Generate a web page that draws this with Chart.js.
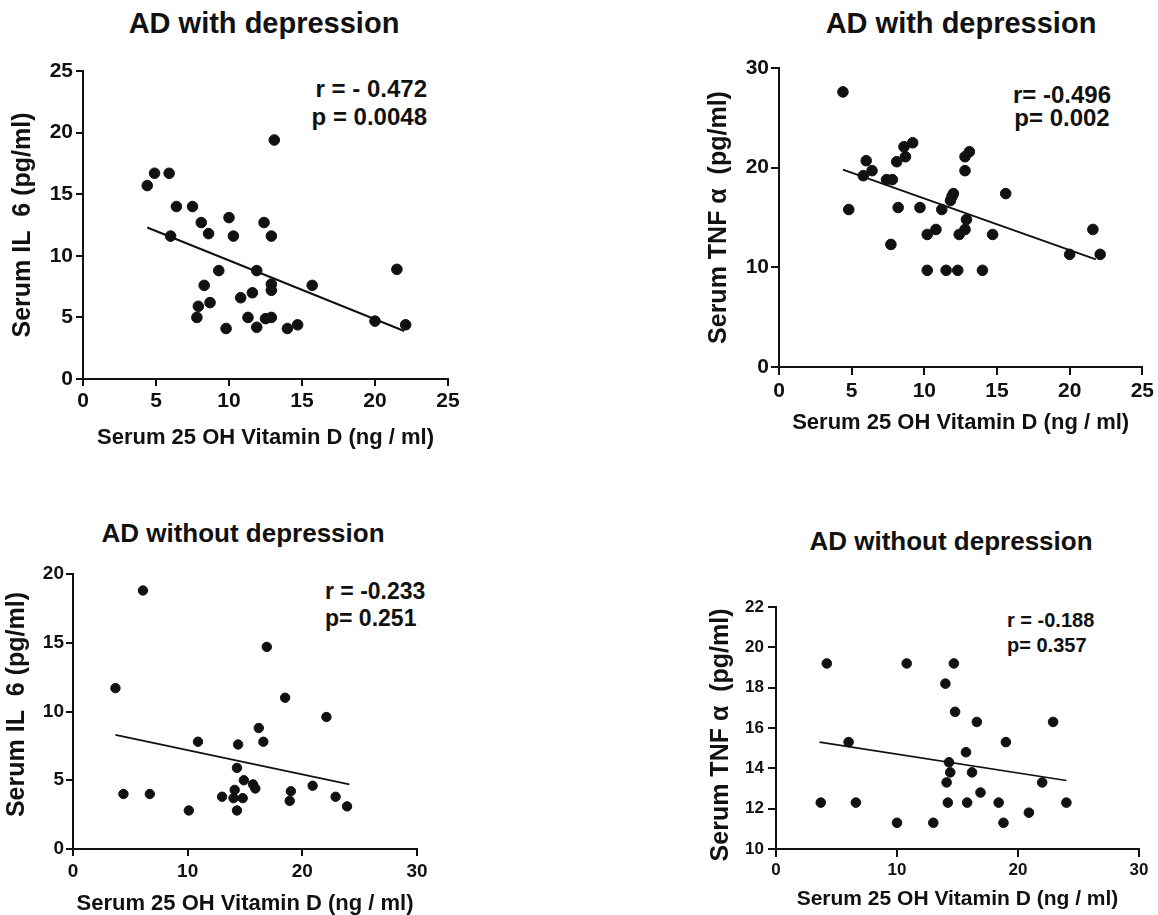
<!DOCTYPE html>
<html>
<head>
<meta charset="utf-8">
<script src="https://cdn.jsdelivr.net/npm/chart.js@4.4.1/dist/chart.umd.min.js"></script>
<style>
  html, body { margin: 0; padding: 0; background: #fff; width: 1158px; height: 915px; overflow: hidden; }
  body { position: relative; font-family: "Liberation Sans", Arial, sans-serif; color: #111; }
  .wrap { position: absolute; }
  .txt { position: absolute; font-weight: bold; white-space: nowrap; line-height: 1; color: #111; }
  .ctr { transform: translateX(-50%); }
</style>
</head>
<body>
<div class="txt ctr" style="left:264px; top:9px; font-size:29px;">AD with depression</div>
<div class="txt ctr" style="left:961px; top:9px; font-size:29px;">AD with depression</div>
<div class="txt ctr" style="left:243px; top:520px; font-size:26px;">AD without depression</div>
<div class="txt ctr" style="left:951px; top:528px; font-size:26px;">AD without depression</div>

<div class="txt" style="right:731px; top:77px; font-size:24px; text-align:right;">r = - 0.472</div>
<div class="txt" style="right:731px; top:105px; font-size:24px; text-align:right;">p = 0.0048</div>
<div class="txt ctr" style="left:1062px; top:83px; font-size:24px;">r= -0.496</div>
<div class="txt ctr" style="left:1062px; top:106px; font-size:24px;">p= 0.002</div>
<div class="txt" style="left:325px; top:580px; font-size:23px;">r = -0.233</div>
<div class="txt" style="left:325px; top:607px; font-size:23px;">p= 0.251</div>
<div class="txt" style="left:1007px; top:610px; font-size:20px;">r = -0.188</div>
<div class="txt" style="left:1007px; top:635px; font-size:20px;">p= 0.357</div>

<div class="wrap" style="left:0px; top:50px; width:470px; height:410px;"><canvas id="c1" width="470" height="410"></canvas></div>
<div class="wrap" style="left:700px; top:50px; width:458px; height:400px;"><canvas id="c2" width="458" height="400"></canvas></div>
<div class="wrap" style="left:0px; top:550px; width:470px; height:365px;"><canvas id="c3" width="470" height="365"></canvas></div>
<div class="wrap" style="left:700px; top:580px; width:458px; height:335px;"><canvas id="c4" width="458" height="335"></canvas></div>

<script>
// ---- Data ----
// Panel 1: AD with depression, IL-6 vs 25 OH Vitamin D
const il6DepX = [4.4, 4.9, 5.9, 6.4, 7.5, 6.0, 8.1, 8.6, 10.0, 10.3, 12.4, 12.9, 13.1, 9.3, 11.9, 8.3, 12.9, 12.9, 15.7, 21.5, 11.6, 10.8, 7.9, 8.7, 7.8, 11.3, 9.8, 11.9, 12.5, 12.9, 14.0, 14.7, 20.0, 22.1];
const il6DepY = [15.7, 16.7, 16.7, 14.0, 14.0, 11.6, 12.7, 11.8, 13.1, 11.6, 12.7, 11.6, 19.4, 8.8, 8.8, 7.6, 7.7, 7.2, 7.6, 8.9, 7.0, 6.6, 5.9, 6.2, 5.0, 5.0, 4.1, 4.2, 4.9, 5.0, 4.1, 4.4, 4.7, 4.4];
const il6DepLineX = [4.4, 22.0];
const il6DepLineY = [12.3, 3.9];

// Panel 2: AD with depression, TNF-alpha vs 25 OH Vitamin D
const tnfDepX = [4.4, 4.8, 6.0, 5.8, 6.4, 7.4, 7.8, 7.7, 8.1, 8.6, 8.7, 9.2, 8.2, 9.7, 10.2, 10.8, 10.2, 11.2, 11.9, 12.0, 11.8, 11.5, 12.3, 12.4, 12.8, 12.8, 12.8, 13.1, 12.9, 14.0, 14.7, 15.6, 20.0, 21.6, 22.1];
const tnfDepY = [27.6, 15.8, 20.7, 19.2, 19.7, 18.8, 18.8, 12.3, 20.6, 22.1, 21.1, 22.5, 16.0, 16.0, 13.3, 13.8, 9.7, 15.8, 17.1, 17.4, 16.7, 9.7, 9.7, 13.3, 13.8, 19.7, 21.1, 21.6, 14.8, 9.7, 13.3, 17.4, 11.3, 13.8, 11.3];
const tnfDepLineX = [4.4, 21.8];
const tnfDepLineY = [19.8, 10.8];

// Panel 3: AD without depression, IL-6 vs 25 OH Vitamin D
const il6NoDepX = [3.7, 6.1, 4.4, 6.7, 10.1, 10.9, 13.0, 14.1, 14.0, 14.8, 14.3, 14.3, 14.4, 14.9, 15.7, 15.9, 16.2, 16.6, 16.9, 18.5, 19.0, 18.9, 20.9, 22.1, 22.9, 23.9];
const il6NoDepY = [11.7, 18.8, 4.0, 4.0, 2.8, 7.8, 3.8, 4.3, 3.7, 3.7, 2.8, 5.9, 7.6, 5.0, 4.7, 4.4, 8.8, 7.8, 14.7, 11.0, 4.2, 3.5, 4.6, 9.6, 3.8, 3.1];
const il6NoDepLineX = [3.7, 24.1];
const il6NoDepLineY = [8.3, 4.7];

// Panel 4: AD without depression, TNF-alpha vs 25 OH Vitamin D
const tnfNoDepX = [3.7, 4.2, 6.0, 6.6, 10.0, 10.8, 13.0, 14.0, 14.7, 14.8, 14.1, 14.3, 14.4, 14.2, 15.7, 15.8, 16.2, 16.6, 16.9, 18.4, 18.8, 19.0, 20.9, 22.0, 22.9, 24.0];
const tnfNoDepY = [12.3, 19.2, 15.3, 12.3, 11.3, 19.2, 11.3, 18.2, 19.2, 16.8, 13.3, 14.3, 13.8, 12.3, 14.8, 12.3, 13.8, 16.3, 12.8, 12.3, 11.3, 15.3, 11.8, 13.3, 16.3, 12.3];
const tnfNoDepLineX = [3.6, 24.0];
const tnfNoDepLineY = [15.3, 13.4];

const xTitle = 'Serum 25 OH Vitamin D (ng / ml)';
const il6Title = 'Serum IL  6 (pg/ml)';
const tnfTitle = 'Serum TNF \u03B1  (pg/ml)';

// ---- Chart builder ----
const FONT = '"Liberation Sans", Arial, sans-serif';
const INK = '#111';

function pairs(xs, ys) { return xs.map((x, i) => ({ x: x, y: ys[i] })); }

function makeChart(id, o) {
  const ctx = document.getElementById(id);
  return new Chart(ctx, {
    type: 'scatter',
    data: {
      datasets: [
        {
          data: pairs(o.xs, o.ys),
          backgroundColor: INK,
          borderColor: INK,
          pointRadius: o.r,
          pointHoverRadius: o.r,
          showLine: false,
          order: 1
        },
        {
          data: pairs(o.lx, o.ly),
          showLine: true,
          borderColor: INK,
          borderWidth: o.lw,
          pointRadius: 0,
          fill: false,
          order: 2
        }
      ]
    },
    options: {
      responsive: false,
      animation: false,
      events: [],
      layout: { padding: { left: 0, top: o.padTop, right: o.padRight, bottom: 0 } },
      plugins: { legend: { display: false }, tooltip: { enabled: false }, title: { display: false } },
      scales: {
        x: {
          type: 'linear',
          min: o.xmin, max: o.xmax,
          afterFit: s => { s.height = o.xh; },
          ticks: { stepSize: o.xstep, color: INK, padding: o.xtp, font: { family: FONT, size: o.tfs, weight: 'bold' } },
          grid: { drawOnChartArea: false, drawTicks: true, tickLength: o.tl, color: INK, lineWidth: 2 },
          border: { display: true, color: INK, width: 2 },
          title: { display: true, text: xTitle, color: INK, padding: { top: 0, bottom: o.xtitlePad }, font: { family: FONT, size: o.xfs, weight: 'bold', lineHeight: 1 } }
        },
        y: {
          type: 'linear',
          min: o.ymin, max: o.ymax,
          afterFit: s => { s.width = o.yw; },
          ticks: { stepSize: o.ystep, color: INK, padding: o.ytp, font: { family: FONT, size: o.tfs, weight: 'bold' } },
          grid: { drawOnChartArea: false, drawTicks: true, tickLength: o.tl, color: INK, lineWidth: 2 },
          border: { display: true, color: INK, width: 2 },
          title: { display: true, text: o.ytitle, color: INK, padding: { top: o.ytitlePad, bottom: 0 }, font: { family: FONT, size: o.yfs, weight: 'bold', lineHeight: 1 } }
        }
      }
    }
  });
}

makeChart('c1', {
  xs: il6DepX, ys: il6DepY, lx: il6DepLineX, ly: il6DepLineY, r: 5.3, lw: 2,
  xmin: 0, xmax: 25, xstep: 5, ymin: 0, ymax: 25, ystep: 5,
  padTop: 21, padRight: 22, yw: 83, xh: 81, tl: 7, xtp: 3, ytp: 3, tfs: 21,
  xfs: 22, xtitlePad: 11, yfs: 25, ytitlePad: 11, ytitle: il6Title
});
makeChart('c2', {
  xs: tnfDepX, ys: tnfDepY, lx: tnfDepLineX, ly: tnfDepLineY, r: 5.3, lw: 2,
  xmin: 0, xmax: 25, xstep: 5, ymin: 0, ymax: 30, ystep: 10,
  padTop: 18, padRight: 15, yw: 79, xh: 83, tl: 8, xtp: 4, ytp: 2, tfs: 21,
  xfs: 22, xtitlePad: 16, yfs: 25, ytitlePad: 7, ytitle: tnfTitle
});
makeChart('c3', {
  xs: il6NoDepX, ys: il6NoDepY, lx: il6NoDepLineX, ly: il6NoDepLineY, r: 4.7, lw: 1.6,
  xmin: 0, xmax: 30, xstep: 10, ymin: 0, ymax: 20, ystep: 5,
  padTop: 24, padRight: 53, yw: 73, xh: 66, tl: 7, xtp: 4, ytp: 2, tfs: 19,
  xfs: 22, xtitlePad: 0, yfs: 25, ytitlePad: 5, ytitle: '  ' + il6Title
});
makeChart('c4', {
  xs: tnfNoDepX, ys: tnfNoDepY, lx: tnfNoDepLineX, ly: tnfNoDepLineY, r: 4.8, lw: 1.6,
  xmin: 0, xmax: 30, xstep: 10, ymin: 10, ymax: 22, ystep: 2,
  padTop: 27, padRight: 19, yw: 76, xh: 66, tl: 8, xtp: 3, ytp: 4, tfs: 17,
  xfs: 21, xtitlePad: 5, yfs: 25, ytitlePad: 9, ytitle: tnfTitle + '  '
});
</script>
</body>
</html>
